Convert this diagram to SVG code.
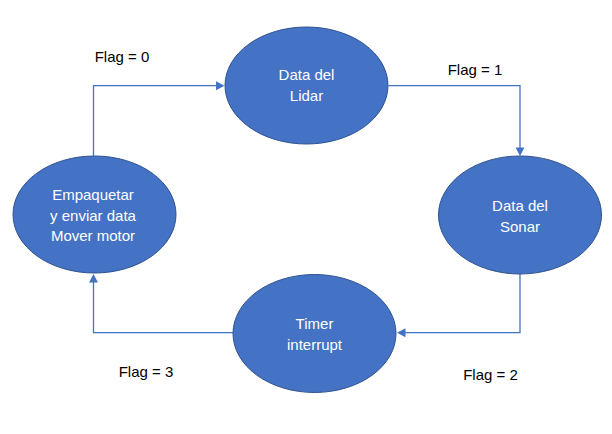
<svg xmlns="http://www.w3.org/2000/svg" width="612" height="434" viewBox="0 0 612 434">
<defs>
<style>
.node ellipse{fill:#4472C4;stroke:#2F528F;stroke-width:1}
.node text{font-family:"Liberation Sans",Arial,sans-serif;font-size:15px;fill:#FFFFFF;text-anchor:middle}
.lbl{font-family:"Liberation Sans",Arial,sans-serif;font-size:15px;fill:#000000;text-anchor:middle}
.conn{fill:none;stroke:#4472C4;stroke-width:1.3}
.head{fill:#4472C4}
</style>
</defs>
<rect width="612" height="434" fill="#FFFFFF"/>
<g id="connectors">
<path class="conn" d="M93.5,156 V85.7 H217"/>
<path class="conn" d="M388.5,85.7 H520 V148"/>
<path class="conn" d="M520,274 V332.7 H405"/>
<path class="conn" d="M233,332.7 H93.5 V282"/>
<path class="head" d="M224.5,85.7 l-8.5,-4.5 v9 z"/>
<path class="head" d="M520,156 l-4.5,-8.5 h9 z"/>
<path class="head" d="M397,332.7 l8.5,-4.5 v9 z"/>
<path class="head" d="M93.5,274 l-4.5,8.5 h9 z"/>
</g>
<g id="node-lidar" class="node">
<ellipse cx="306.5" cy="85.5" rx="81.5" ry="58.5"/>
<text x="306.5" y="80">Data del</text>
<text x="306.5" y="101">Lidar</text>
</g>
<g id="node-sonar" class="node">
<ellipse cx="520" cy="215" rx="81.5" ry="59"/>
<text x="520" y="211">Data del</text>
<text x="520" y="232">Sonar</text>
</g>
<g id="node-timer" class="node">
<ellipse cx="314.5" cy="333.5" rx="81.5" ry="59"/>
<text x="314.5" y="329">Timer</text>
<text x="314.5" y="350">interrupt</text>
</g>
<g id="node-empaquetar" class="node">
<ellipse cx="94.5" cy="214.5" rx="81.5" ry="58.5"/>
<text x="93" y="200">Empaquetar</text>
<text x="93" y="221">y enviar data</text>
<text x="93" y="241">Mover motor</text>
</g>
<g id="labels">
<text class="lbl" x="122" y="62">Flag = 0</text>
<text class="lbl" x="475" y="75">Flag = 1</text>
<text class="lbl" x="490.5" y="380">Flag = 2</text>
<text class="lbl" x="146" y="377">Flag = 3</text>
</g>
</svg>
